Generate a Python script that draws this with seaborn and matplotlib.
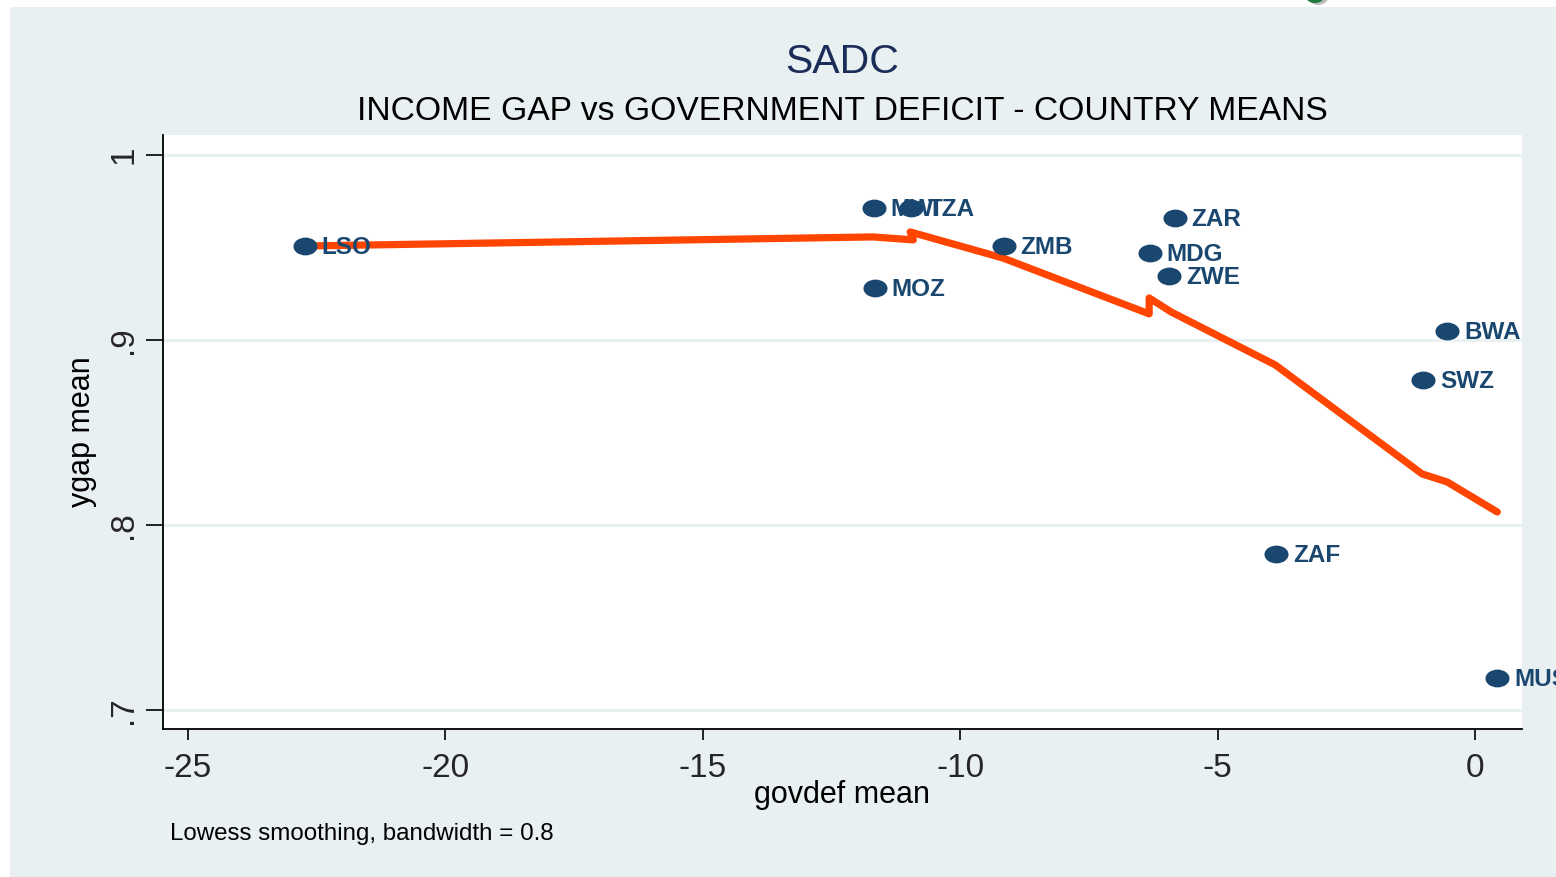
import numpy as np
import pandas as pd
import matplotlib
matplotlib.use("Agg")
import matplotlib.pyplot as plt
import seaborn as sns
from matplotlib.path import Path
from matplotlib.patches import Rectangle, Circle

# country means
countries = ["LSO", "MWI", "TZA", "MOZ", "ZMB", "ZAR", "MDG", "ZWE", "BWA", "SWZ", "ZAF", "MUS"]
govdef = [-22.72, -11.67, -10.95, -11.65, -9.15, -5.83, -6.31, -5.94, -0.54, -1.01, -3.86, 0.43]
ygap = [0.9508, 0.9714, 0.9714, 0.928, 0.9508, 0.966, 0.947, 0.9346, 0.9049, 0.8784, 0.7843, 0.7173]

# lowess line as drawn in the picture
lowess_x = [-22.72, -11.69, -10.91, -10.97, -9.17, -6.33, -6.33, -5.90, -3.88, -1.03, -0.54, 0.43]
lowess_y = [0.9508, 0.9557, 0.9541, 0.9584, 0.9443, 0.9141, 0.9227, 0.9151, 0.8865, 0.8276, 0.8232, 0.8070]

yticks = [0.7, 0.8, 0.9, 1.0]
ytick_labels = [".7", ".8", ".9", "1"]
xticks = [-25, -20, -15, -10, -5, 0]

df = pd.DataFrame({"country": countries, "govdef": govdef, "ygap": ygap})
lw = pd.DataFrame({"x": lowess_x, "y": lowess_y})

sns.set_theme(style="white")
plt.rcParams["font.family"] = ["Liberation Sans", "DejaVu Sans"]

navy = "#1A476F"
bg = "#E8F0F2"

fig = plt.figure(figsize=(15.56, 8.77), dpi=100)
fig.patch.set_facecolor("white")
fig.patches.append(Rectangle((10 / 1556, 0), 1 - 10 / 1556, 870 / 877,
                             transform=fig.transFigure, facecolor=bg,
                             edgecolor="none", zorder=-10))
# logo fragment at the top edge
fig.patches.append(Circle((1318, 884), 12, transform=None, facecolor="#BDBDBD",
                          edgecolor="none", zorder=-5))
fig.patches.append(Circle((1315, 886), 12, transform=None, facecolor="#1E7A3C",
                          edgecolor="none", zorder=-4))

ax = fig.add_axes([163 / 1556, 1 - 729 / 877, 1359 / 1556, 594 / 877])
ax.set_facecolor("white")

# Stata draws its circles a little wider than tall
ellipse = Path(Path.unit_circle().vertices * [1, 0.74], Path.unit_circle().codes)

sns.lineplot(data=lw, x="x", y="y", sort=False, estimator=None, ax=ax,
             color="#FF4500", linewidth=5.2, zorder=3,
             solid_joinstyle="round", solid_capstyle="round")
sns.scatterplot(data=df, x="govdef", y="ygap", ax=ax, marker=ellipse, s=300,
                color=navy, edgecolor=navy, linewidth=0, zorder=4)

for c, x, y in zip(countries, govdef, ygap):
    ax.annotate(c, (x, y), xytext=(12, -1.2), textcoords="offset points",
                ha="left", va="center", fontsize=17.5, fontweight="bold",
                color=navy, zorder=5, annotation_clip=False, clip_on=False)

ax.set_xlim(-25.48, 0.91)
ax.set_ylim(0.6897, 1.0108)
ax.set_xticks(xticks)
ax.set_xticklabels([str(t) for t in xticks])
ax.set_yticks(yticks)
ax.set_yticklabels(ytick_labels, rotation=90, va="center")

ax.yaxis.grid(True, color=bg, linewidth=2)
ax.xaxis.grid(False)
ax.set_axisbelow(True)

for s in ["top", "right"]:
    ax.spines[s].set_visible(False)
for s in ["left", "bottom"]:
    ax.spines[s].set_color("black")
    ax.spines[s].set_linewidth(1.3)

ax.tick_params(axis="x", direction="out", length=8, width=1.2, color="black",
               labelsize=24, pad=9, bottom=True)
ax.tick_params(axis="y", direction="out", length=12, width=1.2, color="black",
               labelsize=24, pad=5, left=True)

ax.set_xlabel("govdef mean", fontsize=22, color="black")
ax.xaxis.set_label_coords(0.5, -0.111)
ax.xaxis.label.set_verticalalignment("center")
ax.set_ylabel("ygap mean", fontsize=22, color="black")
ax.yaxis.set_label_coords(-0.0595, 0.5)
ax.yaxis.label.set_verticalalignment("center")

fig.text(842.5 / 1556, 1 - 62 / 877, "SADC", ha="center", va="center",
         fontsize=29.5, color="#1C2C58")
fig.text(842.5 / 1556, 1 - 111 / 877,
         "INCOME GAP vs GOVERNMENT DEFICIT - COUNTRY MEANS",
         ha="center", va="center", fontsize=24.2, color="black")
fig.text(170 / 1556, 1 - 834 / 877, "Lowess smoothing, bandwidth = 0.8",
         ha="left", va="center", fontsize=17.4, color="black")

fig.savefig("out.png", dpi=100, facecolor=fig.get_facecolor())
